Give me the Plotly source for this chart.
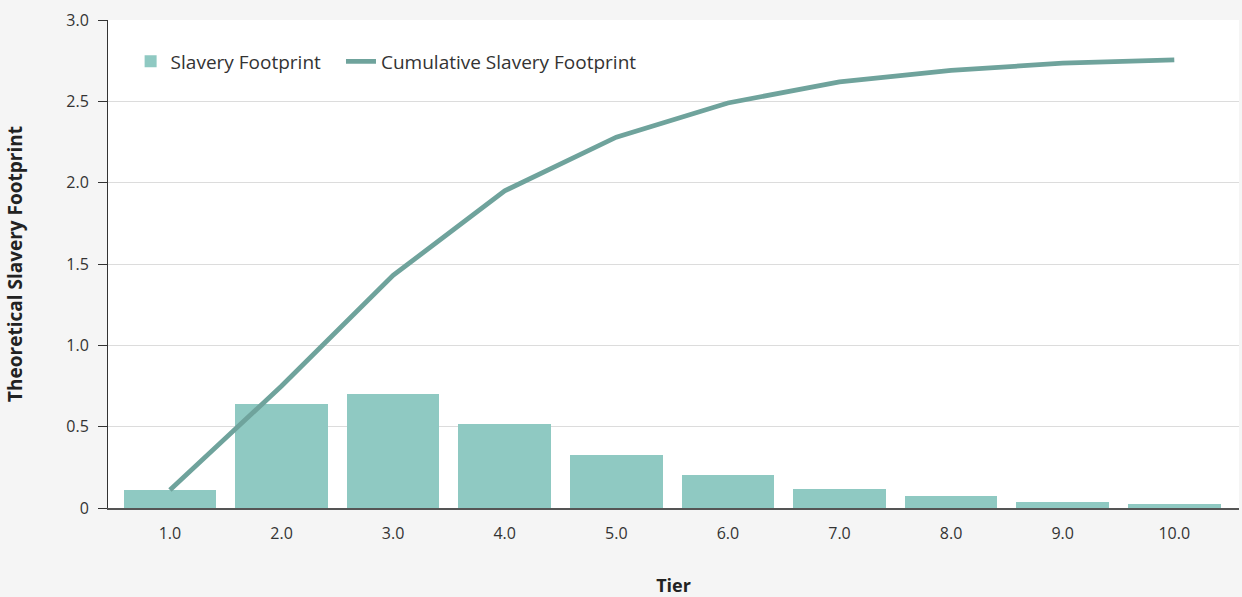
import plotly.graph_objects as go

tiers = [1, 2, 3, 4, 5, 6, 7, 8, 9, 10]
tier_labels = ["1.0", "2.0", "3.0", "4.0", "5.0", "6.0", "7.0", "8.0", "9.0", "10.0"]
footprint = [0.11, 0.64, 0.70, 0.515, 0.325, 0.205, 0.117, 0.075, 0.038, 0.025]
cumulative = [0.11, 0.75, 1.43, 1.95, 2.28, 2.49, 2.62, 2.69, 2.735, 2.755]
y_ticks = [0, 0.5, 1.0, 1.5, 2.0, 2.5, 3.0]
y_tick_labels = ["0", "0.5", "1.0", "1.5", "2.0", "2.5", "3.0"]

FONT = "Open Sans"
fig = go.Figure()
fig.add_trace(go.Bar(
    x=tiers, y=footprint, name="Slavery Footprint",
    marker=dict(color="#8fc9c2", line=dict(width=0)), width=0.83,
    legend="legend",
))
fig.add_trace(go.Scatter(
    x=tiers, y=cumulative, name="Cumulative Slavery Footprint",
    mode="lines", line=dict(color="#6fa39c", width=4.8),
    legend="legend2",
))

leg_common = dict(
    orientation="h", yanchor="middle", xanchor="left", y=0.915,
    bgcolor="rgba(0,0,0,0)", font=dict(size=19, color="#333333"), itemwidth=30,
)
fig.update_layout(
    width=1242, height=597,
    margin=dict(l=108, r=3, t=20, b=89),
    paper_bgcolor="#f5f5f5", plot_bgcolor="#ffffff",
    font=dict(family=FONT, size=16, color="#333333"),
    showlegend=True,
    legend=dict(x=0.02, **leg_common),
    legend2=dict(x=0.206, **leg_common),
    bargap=0,
)
fig.update_xaxes(
    range=[0.445, 10.58], tickvals=tiers, ticktext=tier_labels, automargin=False,
    showgrid=False, zeroline=False, showline=True, linecolor="#555555", linewidth=2,
    ticks="", tickfont=dict(size=16, color="#333333"), ticklabelstandoff=10,
    title=dict(text="<b>Tier</b>", font=dict(size=18, color="#222222"), standoff=40),
)
fig.update_yaxes(
    range=[0, 3.0], tickvals=y_ticks, ticktext=y_tick_labels, automargin=False,
    showgrid=True, gridcolor="#dcdcdc", gridwidth=1, zeroline=False,
    showline=True, linecolor="#333333", linewidth=1,
    ticks="outside", ticklen=9, tickcolor="#333333", ticklabelstandoff=6,
    tickfont=dict(size=16, color="#333333"),
    title=dict(text="<b>Theoretical Slavery Footprint</b>", font=dict(size=19, color="#222222"), standoff=38),
)

fig.write_html("out.html", config={"displayModeBar": False},
               post_script="document.body.style.margin='0';")
